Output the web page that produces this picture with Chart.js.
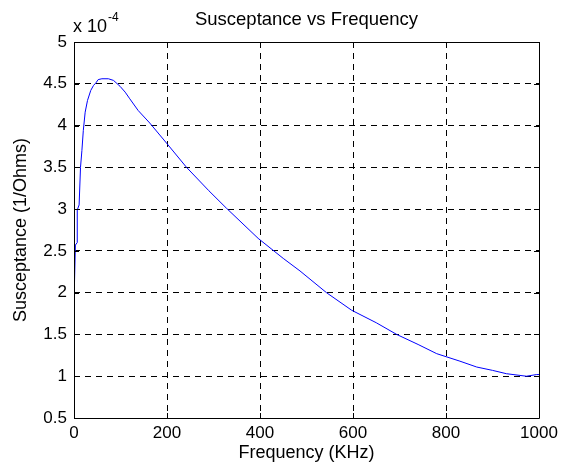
<!DOCTYPE html>
<html>
<head>
<meta charset="utf-8">
<script src="https://cdn.jsdelivr.net/npm/chart.js@4.4.1/dist/chart.umd.min.js"></script>
<style>
  html, body { margin: 0; padding: 0; background: #fff; }
  #wrap { width: 569px; height: 473px; }
</style>
</head>
<body>
<div id="wrap"><canvas id="c" width="569" height="473"></canvas></div>
<script>
// Susceptance vs frequency, values in units of 1e-4 S
const freqKHz = [0, 0, 2, 3, 7, 7, 11, 14, 17, 20, 24, 29, 36, 42, 47, 52, 60, 74, 85, 99, 110, 120, 138, 163, 199, 242, 290, 328, 396, 450, 486, 543, 597, 650, 694, 740, 780, 830, 866, 900, 930, 973, 995, 1000];
const susceptance = [1.52, 2.07, 2.1, 2.57, 2.6, 2.99, 3.05, 3.5, 3.7, 3.94, 4.16, 4.30, 4.42, 4.48, 4.51, 4.55, 4.56, 4.56, 4.54, 4.47, 4.40, 4.32, 4.18, 4.03, 3.79, 3.5, 3.22, 3.01, 2.65, 2.41, 2.26, 2.0, 1.79, 1.64, 1.5, 1.38, 1.27, 1.18, 1.11, 1.07, 1.03, 1.0, 1.02, 1.02];
const xTicks = [0, 200, 400, 600, 800, 1000];
const yTicks = [0.5, 1, 1.5, 2, 2.5, 3, 3.5, 4, 4.5, 5];

const FONT = "'Liberation Sans', Arial, Helvetica, sans-serif";

// box, inward ticks and the exponent label, matlab style
const frame = {
  id: "frame",
  afterDraw(chart) {
    const { ctx, chartArea: a, scales: { x, y } } = chart;
    ctx.save();
    ctx.strokeStyle = "#000";
    ctx.lineWidth = 1;
    ctx.beginPath();
    ctx.rect(Math.round(a.left) + 0.5, Math.round(a.top) + 0.5, Math.round(a.right - a.left), Math.round(a.bottom - a.top));
    const t = 5;
    xTicks.forEach((v) => {
      const px = Math.round(x.getPixelForValue(v)) + 0.5;
      ctx.moveTo(px, a.bottom); ctx.lineTo(px, a.bottom - t);
      ctx.moveTo(px, a.top); ctx.lineTo(px, a.top + t);
    });
    yTicks.forEach((v) => {
      const py = Math.round(y.getPixelForValue(v)) + 0.5;
      ctx.moveTo(a.left, py); ctx.lineTo(a.left + t, py);
      ctx.moveTo(a.right, py); ctx.lineTo(a.right - t, py);
    });
    ctx.stroke();
    ctx.fillStyle = "#000";
    ctx.textBaseline = "alphabetic";
    ctx.textAlign = "left";
    ctx.font = "18px " + FONT;
    const base = "x 10";
    ctx.fillText(base, a.left - 1, 32);
    const w = ctx.measureText(base).width;
    ctx.font = "12px " + FONT;
    ctx.fillText("-4", a.left - 1 + w + 1, 21);
    ctx.restore();
  }
};

new Chart(document.getElementById("c"), {
  type: "scatter",
  data: {
    datasets: [{
      data: freqKHz.map((f, i) => ({ x: f, y: susceptance[i] })),
      showLine: true, borderColor: "#0000ff", borderWidth: 1, pointRadius: 0, tension: 0, fill: false
    }]
  },
  options: {
    responsive: false, animation: false,
    layout: { padding: { left: 0, right: 30, top: 0, bottom: 0 } },
    plugins: {
      legend: { display: false }, tooltip: { enabled: false },
      title: { display: true, fullSize: false, text: "Susceptance vs Frequency", color: "#000",
        font: { family: FONT, size: 18.5, weight: "normal" }, padding: { top: 8.6, bottom: 11.2 } }
    },
    scales: {
      x: {
        type: "linear", min: 0, max: 1000,
        afterBuildTicks: (s) => { s.ticks = xTicks.map((v) => ({ value: v })); },
        afterFit: (s) => { s.height = 55; },
        ticks: { color: "#000", padding: 5, maxRotation: 0, autoSkip: false, font: { family: FONT, size: 17 }, callback: (v) => String(v) },
        grid: { color: "#000", lineWidth: 1, drawTicks: false },
        border: { display: false, dash: [6, 5] },
        title: { display: true, text: "Frequency (KHz)", color: "#000", font: { family: FONT, size: 18 }, padding: { top: 0, bottom: 9 } }
      },
      y: {
        type: "linear", min: 0.5, max: 5,
        afterBuildTicks: (s) => { s.ticks = yTicks.map((v) => ({ value: v })); },
        afterFit: (s) => { s.width = 74; },
        ticks: { color: "#000", padding: 7, autoSkip: false, font: { family: FONT, size: 17 }, callback: (v) => String(v) },
        grid: { color: "#000", lineWidth: 1, drawTicks: false },
        border: { display: false, dash: [6, 5] },
        title: { display: true, text: "Susceptance (1/Ohms)", color: "#000", font: { family: FONT, size: 18 }, padding: { top: 10, bottom: 0 } }
      }
    }
  },
  plugins: [frame]
});
</script>
</body>
</html>
